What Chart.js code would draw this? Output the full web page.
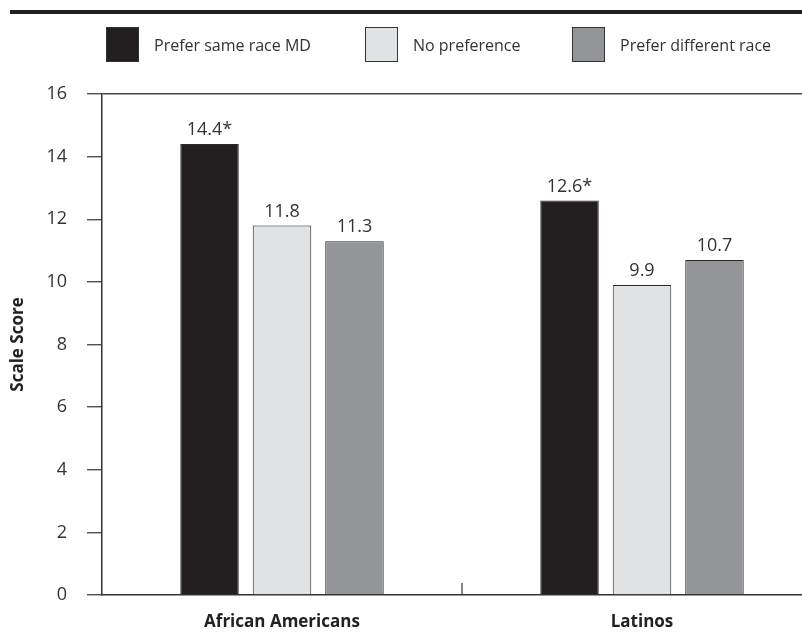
<!DOCTYPE html>
<html>
<head>
<meta charset="utf-8">
<script src="https://cdn.jsdelivr.net/npm/chart.js@4.4.1/dist/chart.umd.min.js"></script>
<style>
  html, body { margin: 0; padding: 0; background: #fff; overflow: hidden; }
  #frame { position: relative; width: 802px; height: 633px; overflow: hidden; background: #fff; }
  #rule { position: absolute; left: 10px; top: 10px; width: 792px; height: 4px; background: #231f20; }
  #wrap { position: absolute; left: 0; top: 0; width: 830px; height: 633px; }
  .lg-item { position: absolute; top: 27px; height: 35px; display: flex; align-items: center;
             font-family: "Open Sans", sans-serif; font-size: 16px; color: #333; white-space: nowrap; }
  .lg-box { width: 31px; height: 33px; border: 1px solid #333; margin-right: 15px; }
</style>
</head>
<body>
<div id="frame">
  <div id="rule"></div>
  <div id="wrap"><canvas id="c"></canvas></div>
  <div id="legend"></div>
</div>
<script>
// ---- data ----
const categories = ['African Americans', 'Latinos'];
const seriesNames = ['Prefer same race MD', 'No preference', 'Prefer different race'];
const preferSameRace = [14.4, 12.6];
const noPreference = [11.8, 9.9];
const preferDifferentRace = [11.3, 10.7];
const significanceMarks = [['*', '*'], ['', ''], ['', '']];
const yTicks = [0, 2, 4, 6, 8, 10, 12, 14, 16];

// ---- styles ----
const colors = ['#231f20', '#e1e2e4', '#939598'];
const seriesValues = [preferSameRace, noPreference, preferDifferentRace];
const yMin = yTicks[0], yMax = yTicks[yTicks.length - 1], yStep = yTicks[1] - yTicks[0];

// HTML legend built from series names/colours
const legendLefts = [106, 365, 572];
const legendEl = document.getElementById('legend');
seriesNames.forEach((name, i) => {
  const item = document.createElement('div');
  item.className = 'lg-item';
  item.style.left = legendLefts[i] + 'px';
  const box = document.createElement('div');
  box.className = 'lg-box';
  box.style.background = colors[i];
  const txt = document.createElement('span');
  txt.textContent = name;
  item.appendChild(box); item.appendChild(txt);
  legendEl.appendChild(item);
});

const valueLabelPlugin = {
  id: 'valueLabels',
  afterDatasetsDraw(chart) {
    const ctx = chart.ctx;
    ctx.save();
    ctx.font = '18px "Open Sans", sans-serif';
    ctx.fillStyle = '#333';
    ctx.textAlign = 'center';
    ctx.textBaseline = 'bottom';
    chart.data.datasets.forEach((ds, d) => {
      const meta = chart.getDatasetMeta(d);
      meta.data.forEach((bar, i) => {
        const txt = ds.data[i].toFixed(1) + (significanceMarks[d][i] || '');
        ctx.fillText(txt, bar.x, bar.y - 5);
      });
    });
    ctx.restore();
  }
};

const dividerPlugin = {
  id: 'categoryDivider',
  afterDraw(chart) {
    const xs = chart.scales.x;
    const ctx = chart.ctx;
    const bottom = chart.chartArea.bottom;
    ctx.save();
    ctx.strokeStyle = '#333';
    ctx.lineWidth = 1.2;
    for (let i = 1; i < categories.length; i++) {
      const x = (xs.getPixelForValue(i - 1) + xs.getPixelForValue(i)) / 2;
      ctx.beginPath();
      ctx.moveTo(x, bottom - 12);
      ctx.lineTo(x, bottom);
      ctx.stroke();
    }
    ctx.restore();
  }
};

new Chart(document.getElementById('c'), {
  type: 'bar',
  data: {
    labels: categories,
    datasets: seriesNames.map((name, i) => ({
      label: name,
      data: seriesValues[i],
      backgroundColor: colors[i],
      borderColor: '#2a2a2a',
      borderWidth: 1,
      categoryPercentage: 0.604,
      barPercentage: 0.807
    }))
  },
  options: {
    responsive: true,
    maintainAspectRatio: false,
    animation: false,
    layout: { padding: { top: 94, right: 8, bottom: 0, left: 0 } },
    plugins: { legend: { display: false }, tooltip: { enabled: false } },
    scales: {
      x: {
        grid: { display: false, drawTicks: false },
        border: { display: true, color: '#333', width: 1.5 },
        ticks: {
          padding: 17,
          color: '#222',
          font: { family: '"Open Sans", sans-serif', size: 17, weight: 'bold' }
        },
        afterFit(axis) { axis.height = 38; }
      },
      y: {
        min: yMin, max: yMax,
        afterBuildTicks(axis) { axis.ticks = yTicks.map(v => ({ value: v })); },
        ticks: {
          stepSize: yStep,
          padding: 20,
          color: '#333',
          font: { family: '"Open Sans", sans-serif', size: 18 }
        },
        grid: {
          drawOnChartArea: true,
          drawTicks: true,
          tickLength: 15,
          lineWidth: 1.5,
          tickWidth: 1.2,
          tickColor: '#333',
          color: (c) => (c.tick && c.tick.value === yMax) ? '#444' : 'rgba(0,0,0,0)'
        },
        border: { display: true, color: '#333', width: 1.5 },
        title: {
          display: true,
          text: 'Scale Score',
          color: '#222',
          font: { family: '"Open Sans", sans-serif', size: 17, weight: 'bold' },
          padding: { top: 8, bottom: 0 }
        },
        afterFit(axis) { axis.width = 102; }
      }
    }
  },
  plugins: [valueLabelPlugin, dividerPlugin]
});
</script>
</body>
</html>
